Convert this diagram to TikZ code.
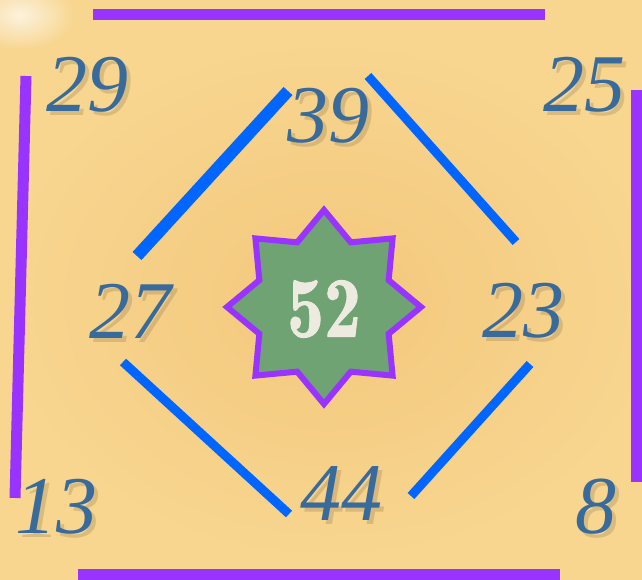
\documentclass[tikz,border=0pt]{standalone}
\usepackage{fontspec}
\newfontfamily\numfont{Liberation Serif}
\newfontfamily\starfont{lmromandemi10-regular.otf}[FakeBold=1.2]
\definecolor{bg}{HTML}{F8D690}
\definecolor{bgdark}{HTML}{F3C477}
\definecolor{purp}{HTML}{9933FF}
\definecolor{blu}{HTML}{0066FF}
\definecolor{numc}{HTML}{386B9C}
\definecolor{starg}{HTML}{70A373}
\definecolor{startxt}{HTML}{EDEBDF}
\tikzset{
  num/.style={font=\numfont\itshape\fontsize{82}{82}\selectfont, text=numc, inner sep=0pt},
  numshadow/.style={font=\numfont\itshape\fontsize{82}{82}\selectfont, text=black, opacity=0.12, inner sep=0pt, xshift=4pt, yshift=-4pt},
  purpline/.style={draw=purp, line width=11pt},
  blueline/.style={draw=blu, line width=9pt},
  starbox/.style={fill=starg, draw=purp, line width=6pt, miter limit=20},
  startext/.style={font=\starfont\fontsize{86}{86}\selectfont, text=startxt, inner sep=0pt, xscale=0.86}
}
\begin{document}
\begin{tikzpicture}[x=1pt,y=-1pt]
\useasboundingbox (0,0) rectangle (642,580);
\clip (0,0) rectangle (642,580);
\fill[bg] (0,0) rectangle (642,580);
\shade[inner color=bgdark, outer color=bg, opacity=0.8] (330,300) ellipse (330 and 260);
\shade[inner color=white, outer color=bg, opacity=0.7] (20,15) ellipse (55 and 35);
% purple frame
\draw[purpline] (93,14.5) -- (545,14.5);
\draw[purpline] (26,76) -- (15,498);
\draw[purpline] (636,90) -- (636,482);
\draw[purpline] (78,574) -- (560,574);
% blue diamond sides
\draw[blueline, line width=12pt] (137,256) -- (288,91);
\draw[blueline] (368,76) -- (516,242);
\draw[blueline] (123,362) -- (289,514);
\draw[blueline] (530,364) -- (411,496);
% star
\begin{scope}[shift={(324,307)}]
\draw[starbox] (0:97) -- (22.5:70) -- (45:97) -- (67.5:70) -- (90:97) -- (112.5:70) -- (135:97) -- (157.5:70)
  -- (180:97) -- (202.5:70) -- (225:97) -- (247.5:70) -- (270:97) -- (292.5:70) -- (315:97) -- (337.5:70) -- cycle;
\end{scope}
\node[startext] (c52) at (324,309) {52};
% numbers
\node[numshadow] at (87,85) {29};   \node[num] (n29) at (87,85) {29};
\node[numshadow] at (328,116) {39}; \node[num] (n39) at (328,116) {39};
\node[numshadow] at (584,85) {25};  \node[num] (n25) at (584,85) {25};
\node[numshadow] at (130,311) {27}; \node[num] (n27) at (130,311) {27};
\node[numshadow] at (523,311) {23}; \node[num] (n23) at (523,311) {23};
\node[numshadow] at (56,507) {13};  \node[num] (n13) at (56,507) {13};
\node[numshadow] at (341,494) {44}; \node[num] (n44) at (341,494) {44};
\node[numshadow] at (596,507) {8};  \node[num] (n8) at (596,507) {8};
\end{tikzpicture}
\end{document}
